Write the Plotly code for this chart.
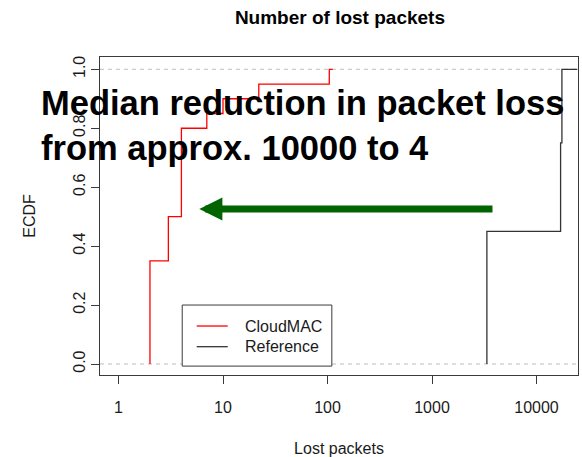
import numpy as np
import plotly.graph_objects as go

# ---------------- data ----------------
chart_title = "Number of lost packets"
x_title = "Lost packets"
y_title = "ECDF"
series_names = ["CloudMAC", "Reference"]
cloudmac_lost = [2, 2, 2, 2, 2, 2, 2, 3, 3, 3, 4, 4, 4, 4, 4, 4, 7, 10, 22, 104]
reference_lost = [3350, 3350, 3350, 3350, 3350, 3350, 3350, 3350, 3350,
                  17000, 17000, 17000, 17000, 17000, 17000,
                  17500, 17500, 17500, 17500, 17500]
x_tick_vals = [1, 10, 100, 1000, 10000]
x_tick_text = ["1", "10", "100", "1000", "10000"]
y_tick_vals = [0.0, 0.2, 0.4, 0.6, 0.8, 1.0]
y_tick_text = ["0.0", "0.2", "0.4", "0.6", "0.8", "1.0"]
note_text = "Median reduction in packet loss<br>from approx. 10000 to 4"

# ---------------- styles ----------------
FONT = "Liberation Sans, Arial, Helvetica, sans-serif"
series_colors = ["#ff0000", "#333333"]
axis_color = "#3a3a3a"
text_color = "#1a1a1a"


def ecdf_steps(values):
    """Step outline of an empirical CDF (R plot.stepfun style right extension)."""
    v = np.sort(np.asarray(values, dtype=float))
    knots, counts = np.unique(v, return_counts=True)
    F = np.cumsum(counts) / len(v)
    dr = max(0.08 * (knots[-1] - knots[0]), float(np.median(np.diff(knots))))
    xs = [knots[0]] + list(knots) + [knots[-1] + dr]
    ys = [0.0] + list(F) + [F[-1]]
    return xs, ys


fig = go.Figure()
for name, vals, col in zip(series_names, [cloudmac_lost, reference_lost], series_colors):
    xs, ys = ecdf_steps(vals)
    fig.add_trace(go.Scatter(x=xs, y=ys, mode="lines", name=name,
                             line=dict(color=col, width=1.3, shape="hv"),
                             showlegend=False))

# gray dashed reference lines at 0 and 1
for yv in (0, 1):
    fig.add_shape(type="line", xref="paper", x0=0, x1=1, yref="y", y0=yv, y1=yv,
                  line=dict(color="#bdbdbd", width=1, dash="4px,4px"), layer="below")

# manual legend (box, line samples, labels)
fig.add_shape(type="rect", xref="paper", yref="paper", x0=0.172, x1=0.485,
              y0=0.028, y1=0.220, line=dict(color=axis_color, width=1),
              fillcolor="white", layer="above")
for i, (name, col) in enumerate(zip(series_names, series_colors)):
    yy = 0.154 - i * 0.065
    fig.add_shape(type="line", xref="paper", yref="paper", x0=0.2023, x1=0.2672,
                  y0=yy, y1=yy, line=dict(color=col, width=1.3), layer="above")
    fig.add_annotation(xref="paper", yref="paper", x=0.2998, y=yy, text=name,
                       showarrow=False, xanchor="left", yanchor="middle",
                       font=dict(family=FONT, size=16, color=text_color))

# big note text
fig.add_annotation(xref="paper", yref="paper", x=-0.1276, y=0.785, text=note_text,
                   showarrow=False, xanchor="left", yanchor="middle", align="left",
                   font=dict(family=FONT, size=34.5, color="black", weight="bold"))

# green arrow
fig.add_annotation(xref="paper", yref="paper", x=0.2077, y=0.522, text="",
                   showarrow=True, ax=294.7, ay=0, axref="pixel", ayref="pixel",
                   arrowhead=2, arrowwidth=7, arrowsize=0.66, arrowcolor="#006400",
                   standoff=0)

fig.update_layout(
    width=582, height=457,
    margin=dict(l=100, r=4, t=57, b=82),
    paper_bgcolor="white", plot_bgcolor="white",
    font=dict(family=FONT, size=16, color=text_color),
    title=dict(text=chart_title, x=0.502, xref="paper", xanchor="center",
               y=1 - 17 / 457, yref="container", yanchor="middle",
               font=dict(family=FONT, size=19, color="black", weight="bold")),
)
fig.update_xaxes(type="log", range=[-0.177, 4.397], tickmode="array",
                 tickvals=x_tick_vals, ticktext=x_tick_text,
                 showgrid=False, zeroline=False,
                 showline=True, linecolor=axis_color, linewidth=1, mirror=True,
                 ticks="outside", ticklen=8, tickcolor=axis_color, tickwidth=1,
                 ticklabelstandoff=10,
                 tickfont=dict(family=FONT, size=16, color=text_color),
                 title=dict(text=x_title, standoff=27,
                            font=dict(family=FONT, size=16, color=text_color)))
fig.update_yaxes(range=[-0.0373, 1.0417], tickmode="array",
                 tickvals=y_tick_vals, ticktext=y_tick_text, tickangle=-90,
                 showgrid=False, zeroline=False,
                 showline=True, linecolor=axis_color, linewidth=1, mirror=True,
                 ticks="outside", ticklen=8, tickcolor=axis_color, tickwidth=1,
                 tickfont=dict(family=FONT, size=16, color=text_color),
                 title=dict(text=y_title, standoff=30,
                            font=dict(family=FONT, size=16, color=text_color)))

fig.write_html("out.html")
